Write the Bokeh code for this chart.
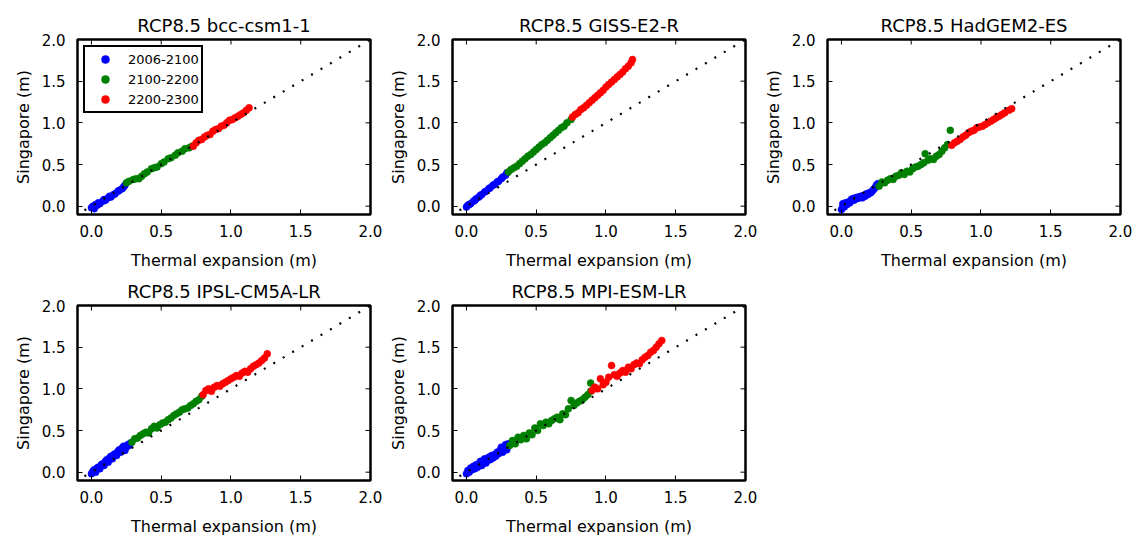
from math import pi
from bokeh.plotting import figure
from bokeh.models import FixedTicker, PrintfTickFormatter, Range1d
from bokeh.layouts import column, row
from bokeh.embed import file_html
from bokeh.resources import INLINE

# ---------------- data ----------------
period_labels = ["2006-2100", "2100-2200", "2200-2300"]
period_colors = ["#0000ff", "#008000", "#ff0000"]
tick_values = [0.0, 0.5, 1.0, 1.5, 2.0]
axis_max = 2.0
one_to_one = [-0.05, 2.0]

# bcc-csm1-1
bcc_blue_x = [0.00, 0.01, 0.02, 0.03, 0.04, 0.05, 0.06, 0.08, 0.09, 0.10, 0.12, 0.13, 0.14, 0.16, 0.17, 0.19, 0.20, 0.22, 0.23, 0.24]
bcc_blue_y = [-0.02, 0.00, -0.03, 0.02, 0.01, 0.04, 0.03, 0.06, 0.08, 0.07, 0.10, 0.12, 0.11, 0.14, 0.15, 0.18, 0.19, 0.21, 0.23, 0.25]
bcc_green_x = [0.25, 0.27, 0.30, 0.32, 0.34, 0.36, 0.38, 0.40, 0.43, 0.45, 0.47, 0.50, 0.52, 0.55, 0.57, 0.60, 0.62, 0.65, 0.67, 0.70, 0.72]
bcc_green_y = [0.28, 0.30, 0.32, 0.33, 0.33, 0.36, 0.39, 0.41, 0.45, 0.46, 0.47, 0.51, 0.53, 0.57, 0.58, 0.61, 0.64, 0.66, 0.69, 0.70, 0.72]
bcc_red_x = [0.73, 0.75, 0.77, 0.79, 0.81, 0.83, 0.85, 0.87, 0.89, 0.91, 0.93, 0.95, 0.97, 0.99, 1.01, 1.03, 1.05, 1.07, 1.09, 1.11, 1.13]
bcc_red_y = [0.72, 0.76, 0.79, 0.80, 0.83, 0.85, 0.86, 0.90, 0.92, 0.93, 0.96, 0.97, 1.00, 1.03, 1.04, 1.06, 1.08, 1.10, 1.12, 1.15, 1.18]

# GISS-E2-R
giss_blue_x = [0.00, 0.01, 0.02, 0.03, 0.05, 0.06, 0.07, 0.09, 0.10, 0.11, 0.13, 0.14, 0.16, 0.17, 0.19, 0.20, 0.22, 0.23, 0.25, 0.26, 0.28, 0.29]
giss_blue_y = [-0.01, 0.01, 0.02, 0.03, 0.06, 0.07, 0.09, 0.11, 0.13, 0.14, 0.17, 0.18, 0.21, 0.22, 0.25, 0.26, 0.29, 0.30, 0.33, 0.35, 0.37, 0.40]
giss_green_x = [0.30, 0.32, 0.34, 0.36, 0.38, 0.40, 0.42, 0.44, 0.46, 0.48, 0.50, 0.52, 0.54, 0.56, 0.58, 0.60, 0.62, 0.64, 0.66, 0.68, 0.70, 0.72, 0.75]
giss_green_y = [0.41, 0.44, 0.46, 0.48, 0.51, 0.54, 0.57, 0.60, 0.62, 0.65, 0.68, 0.71, 0.74, 0.76, 0.79, 0.82, 0.85, 0.88, 0.91, 0.94, 0.96, 1.00, 1.04]
giss_red_x = [0.76, 0.78, 0.80, 0.82, 0.84, 0.86, 0.88, 0.90, 0.92, 0.94, 0.96, 0.98, 1.00, 1.02, 1.04, 1.06, 1.08, 1.10, 1.12, 1.14, 1.16, 1.18, 1.19]
giss_red_y = [1.07, 1.10, 1.12, 1.16, 1.18, 1.21, 1.24, 1.27, 1.30, 1.33, 1.36, 1.39, 1.43, 1.46, 1.49, 1.52, 1.55, 1.58, 1.61, 1.65, 1.68, 1.72, 1.76]

# HadGEM2-ES
had_blue_x = [0.00, 0.01, 0.01, 0.02, 0.03, 0.04, 0.05, 0.06, 0.07, 0.08, 0.09, 0.10, 0.11, 0.12, 0.13, 0.14, 0.15, 0.16, 0.17, 0.18, 0.19, 0.20, 0.21, 0.22, 0.23, 0.24, 0.25, 0.26]
had_blue_y = [-0.04, 0.00, 0.03, -0.01, 0.04, 0.02, 0.05, 0.04, 0.08, 0.09, 0.07, 0.10, 0.09, 0.11, 0.10, 0.12, 0.10, 0.13, 0.12, 0.15, 0.14, 0.16, 0.16, 0.18, 0.20, 0.22, 0.25, 0.27]
had_green_x = [0.27, 0.29, 0.31, 0.33, 0.35, 0.37, 0.39, 0.41, 0.43, 0.45, 0.47, 0.49, 0.51, 0.53, 0.55, 0.57, 0.59, 0.60, 0.62, 0.64, 0.66, 0.68, 0.70, 0.72, 0.74, 0.76, 0.78]
had_green_y = [0.24, 0.29, 0.28, 0.31, 0.33, 0.32, 0.36, 0.37, 0.40, 0.38, 0.42, 0.41, 0.45, 0.47, 0.48, 0.50, 0.52, 0.63, 0.55, 0.57, 0.56, 0.60, 0.62, 0.66, 0.70, 0.74, 0.91]
had_red_x = [0.79, 0.81, 0.83, 0.85, 0.87, 0.89, 0.91, 0.93, 0.95, 0.97, 0.99, 1.01, 1.03, 1.05, 1.07, 1.09, 1.11, 1.13, 1.15, 1.17, 1.20, 1.22]
had_red_y = [0.73, 0.76, 0.78, 0.80, 0.83, 0.85, 0.88, 0.90, 0.91, 0.94, 0.95, 0.96, 0.98, 1.00, 1.02, 1.04, 1.06, 1.08, 1.10, 1.12, 1.15, 1.17]

# IPSL-CM5A-LR
ipsl_blue_x = [0.00, 0.01, 0.02, 0.03, 0.04, 0.05, 0.06, 0.07, 0.08, 0.09, 0.10, 0.11, 0.12, 0.13, 0.14, 0.15, 0.16, 0.17, 0.18, 0.19, 0.20, 0.21, 0.22, 0.23, 0.24, 0.25, 0.26, 0.27, 0.28]
ipsl_blue_y = [-0.02, 0.01, 0.03, 0.00, 0.05, 0.06, 0.04, 0.09, 0.10, 0.08, 0.13, 0.15, 0.12, 0.17, 0.19, 0.16, 0.21, 0.22, 0.20, 0.25, 0.27, 0.24, 0.29, 0.31, 0.26, 0.30, 0.33, 0.32, 0.35]
ipsl_green_x = [0.29, 0.31, 0.33, 0.35, 0.37, 0.39, 0.41, 0.43, 0.45, 0.47, 0.49, 0.51, 0.53, 0.55, 0.57, 0.59, 0.61, 0.63, 0.65, 0.67, 0.69, 0.71, 0.73, 0.75, 0.77, 0.79]
ipsl_green_y = [0.36, 0.40, 0.41, 0.44, 0.46, 0.48, 0.47, 0.52, 0.55, 0.53, 0.57, 0.59, 0.60, 0.63, 0.65, 0.68, 0.70, 0.72, 0.75, 0.76, 0.77, 0.80, 0.82, 0.85, 0.87, 0.91]
ipsl_red_x = [0.80, 0.82, 0.84, 0.86, 0.88, 0.90, 0.92, 0.94, 0.96, 0.98, 1.00, 1.02, 1.04, 1.06, 1.08, 1.10, 1.12, 1.14, 1.16, 1.18, 1.20, 1.22, 1.24, 1.26]
ipsl_red_y = [0.93, 0.98, 1.00, 0.97, 1.02, 1.04, 1.03, 1.06, 1.08, 1.10, 1.12, 1.14, 1.16, 1.15, 1.19, 1.21, 1.20, 1.24, 1.27, 1.29, 1.31, 1.34, 1.37, 1.42]

# MPI-ESM-LR
mpi_blue_x = [0.00, 0.01, 0.02, 0.03, 0.04, 0.05, 0.06, 0.07, 0.08, 0.09, 0.10, 0.11, 0.12, 0.13, 0.14, 0.15, 0.16, 0.17, 0.18, 0.19, 0.20, 0.21, 0.22, 0.23, 0.24, 0.25, 0.26, 0.27, 0.28, 0.29, 0.30]
mpi_blue_y = [-0.02, 0.02, 0.00, 0.05, 0.03, 0.07, 0.04, 0.09, 0.06, 0.10, 0.13, 0.08, 0.12, 0.16, 0.11, 0.14, 0.18, 0.15, 0.20, 0.17, 0.21, 0.19, 0.24, 0.22, 0.26, 0.30, 0.24, 0.29, 0.33, 0.27, 0.34]
mpi_green_x = [0.31, 0.33, 0.35, 0.37, 0.39, 0.41, 0.43, 0.45, 0.47, 0.49, 0.51, 0.53, 0.55, 0.57, 0.59, 0.61, 0.63, 0.65, 0.67, 0.69, 0.71, 0.73, 0.75, 0.77, 0.79, 0.81, 0.83, 0.85, 0.87, 0.89, 0.89]
mpi_green_y = [0.32, 0.38, 0.34, 0.42, 0.39, 0.44, 0.40, 0.47, 0.45, 0.53, 0.50, 0.58, 0.56, 0.60, 0.58, 0.62, 0.64, 0.66, 0.63, 0.70, 0.69, 0.76, 0.86, 0.80, 0.83, 0.85, 0.87, 0.90, 0.93, 0.97, 1.07]
mpi_red_x = [0.90, 0.92, 0.94, 0.96, 0.98, 1.00, 1.02, 1.04, 1.06, 1.08, 1.10, 1.12, 1.14, 1.16, 1.18, 1.20, 1.22, 1.24, 1.26, 1.28, 1.30, 1.32, 1.34, 1.36, 1.38, 1.40]
mpi_red_y = [0.98, 1.02, 1.00, 1.12, 1.05, 1.08, 1.14, 1.28, 1.17, 1.15, 1.19, 1.22, 1.20, 1.26, 1.24, 1.29, 1.31, 1.30, 1.35, 1.38, 1.40, 1.44, 1.46, 1.50, 1.54, 1.58]

panels = [
    ("RCP8.5 bcc-csm1-1", [(bcc_blue_x, bcc_blue_y), (bcc_green_x, bcc_green_y), (bcc_red_x, bcc_red_y)]),
    ("RCP8.5 GISS-E2-R", [(giss_blue_x, giss_blue_y), (giss_green_x, giss_green_y), (giss_red_x, giss_red_y)]),
    ("RCP8.5 HadGEM2-ES", [(had_blue_x, had_blue_y), (had_green_x, had_green_y), (had_red_x, had_red_y)]),
    ("RCP8.5 IPSL-CM5A-LR", [(ipsl_blue_x, ipsl_blue_y), (ipsl_green_x, ipsl_green_y), (ipsl_red_x, ipsl_red_y)]),
    ("RCP8.5 MPI-ESM-LR", [(mpi_blue_x, mpi_blue_y), (mpi_green_x, mpi_green_y), (mpi_red_x, mpi_red_y)]),
]

FONT = "DejaVu Sans"


def style_axis(ax):
    ax.ticker = FixedTicker(ticks=tick_values)
    ax.formatter = PrintfTickFormatter(format="%.1f")
    ax.major_tick_in = 5
    ax.major_tick_out = 0
    ax.minor_tick_in = 0
    ax.minor_tick_out = 0
    ax.major_tick_line_color = "black"
    ax.major_tick_line_width = 1
    ax.axis_line_color = None
    ax.major_label_text_font = FONT
    ax.major_label_text_font_size = "15px"
    ax.major_label_text_color = "black"
    ax.axis_label_text_font = FONT
    ax.axis_label_text_font_style = "normal"
    ax.axis_label_text_font_size = "16px"
    ax.axis_label_text_color = "black"


def make_panel(title, series, show_legend, border_left, border_top):
    p = figure(
        x_range=Range1d(-0.1, 2.0), y_range=Range1d(-0.1, 2.0),
        frame_width=293, frame_height=175,
        min_border_left=border_left, min_border_right=13,
        min_border_top=border_top, min_border_bottom=57,
        toolbar_location=None, output_backend="svg",
        background_fill_color="white", border_fill_color="white",
    )
    p.grid.visible = False
    p.outline_line_color = "black"
    p.outline_line_width = 2.5
    p.outline_line_alpha = 1.0

    p.title.text = title
    p.title.text_font = FONT
    p.title.text_font_size = "18px"
    p.title.text_font_style = "normal"
    p.title.text_color = "black"
    p.title.align = "center"
    p.title.standoff = 8

    style_axis(p.xaxis[0])
    style_axis(p.yaxis[0])
    p.xaxis[0].axis_label = "Thermal expansion (m)"
    p.yaxis[0].axis_label = "Singapore (m)"
    p.xaxis[0].major_label_standoff = 10
    p.xaxis[0].axis_label_standoff = 11
    p.yaxis[0].major_label_standoff = 12
    p.yaxis[0].axis_label_standoff = 6

    # tick marks on the top and right edges (inward)
    p.ray(x=tick_values, y=[axis_max] * len(tick_values), length=5, length_units="screen",
          angle=-pi / 2, line_color="black", line_width=1)
    p.ray(x=[axis_max] * len(tick_values), y=tick_values, length=5, length_units="screen",
          angle=pi, line_color="black", line_width=1)

    for (xs, ys), col, lab in zip(series, period_colors, period_labels):
        if show_legend:
            p.scatter(xs, ys, size=7, fill_color=col, line_color=col, line_width=0.5, legend_label=lab)
        else:
            p.scatter(xs, ys, size=7, fill_color=col, line_color=col, line_width=0.5)

    p.line(one_to_one, one_to_one, line_color="black", line_width=2.2, line_dash="2 9")

    if show_legend:
        lg = p.legend[0]
        lg.location = "top_left"
        lg.border_line_color = "black"
        lg.border_line_width = 2
        lg.border_line_alpha = 1
        lg.background_fill_alpha = 1
        lg.label_text_font = FONT
        lg.label_text_font_size = "13px"
        lg.label_text_color = "black"
        lg.glyph_width = 36
        lg.glyph_height = 20
        lg.label_height = 20
        lg.spacing = 0
        lg.padding = 2
        lg.margin = 6
        lg.label_standoff = 5
    return p


figs = []
for i, (t, s) in enumerate(panels):
    col_idx = i % 3
    row_idx = i // 3
    figs.append(make_panel(t, s, i == 0,
                           77 if col_idx == 0 else 69,
                           39 if row_idx == 0 else 33))

layout = column(row(figs[0], figs[1], figs[2]), row(figs[3], figs[4]))

open("out.html", "w").write(file_html(layout, INLINE))
